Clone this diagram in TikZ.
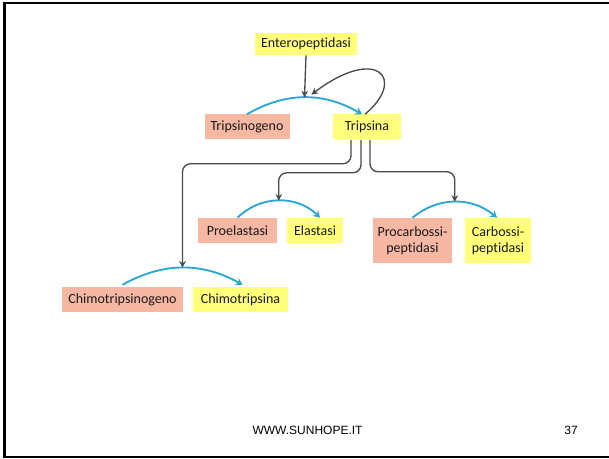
\documentclass[tikz,border=0pt]{standalone}
\usepackage{fontspec}
\setmainfont{Carlito}[Ligatures=NoCommon]
\newfontfamily\footfont{Liberation Sans}
\usepackage{xcolor}
\usetikzlibrary{arrows.meta,calc}
\tikzset{>={Stealth[width=5pt,length=5pt]}}

\definecolor{enzyyel}{HTML}{FFFF7A}
\definecolor{zymored}{HTML}{F6B7A3}
\definecolor{arcblue}{HTML}{2AA8D4}
\definecolor{linegray}{HTML}{4A4A4A}

\begin{document}
\begin{tikzpicture}[x=0.75pt, y=-0.75pt, font=\fontsize{10.5}{12}\selectfont]
	\tikzstyle{active}=[fill=enzyyel, text=black!90, inner sep=1pt, minimum height=18.75pt, align=center]
	\tikzstyle{zymogen}=[fill=zymored, text=black!90, inner sep=1pt, minimum height=18.75pt, align=center]
	\tikzstyle{convert}=[->, draw=arcblue, line width=1.4pt, >={Stealth[width=6pt,length=5pt]}]
	\tikzstyle{trigger}=[->, draw=linegray, line width=1pt, rounded corners=6pt]

	\useasboundingbox (0,0) rectangle (609,459);
	% slide frame
	\draw[line width=2.2pt] (609,3) -- (4.5,3) -- (4.5,457) -- (609,457);

	\node[active, minimum height=16.5pt, minimum width=76.5pt] (enteropeptidasi) at (306,44) {Enteropeptidasi};
	\node[zymogen, minimum width=63.75pt] (tripsinogeno) at (247,127) {Tripsinogeno};
	\node[active, minimum width=51pt] (tripsina) at (367,127) {Tripsina};

	\draw[convert] (tripsinogeno.north) to[bend left=30] coordinate[pos=0.5] (tri-in) coordinate[pos=0.56] (tri-loop) ($(tripsina.north)+(-5,0)$);
	\draw[trigger] (enteropeptidasi.south) -- (tri-in);
	\draw[trigger] ($(tripsina.north)+(-2,0)$) .. controls +(42,-35) and +(66,-50) .. ($(tri-loop)+(0,-3)$);

	\node[zymogen, minimum width=59.25pt] (proelastasi) at (237.5,230.5) {Proelastasi};
	\node[active, minimum width=42pt] (elastasi) at (315,230.5) {Elastasi};
	\draw[convert] (proelastasi.north) to[bend left=45] coordinate[pos=0.5] (ela-in) ($(elastasi.north)+(5,0)$);

	\node[zymogen, minimum width=59.25pt, minimum height=33.75pt] (procarbossi) at (412.5,240.5) {Procarbossi-\\peptidasi};
	\node[active, minimum width=49.5pt, minimum height=33.75pt] (carbossi) at (498,240.5) {Carbossi-\\peptidasi};
	\draw[convert] (procarbossi.north) to[bend left=40] coordinate[pos=0.5] (carb-in) ($(carbossi.north)+(-1,0)$);

	\node[zymogen, minimum width=90.75pt] (chimotripsinogeno) at (122.5,299.5) {Chimotripsinogeno};
	\node[active, minimum width=71.25pt] (chimotripsina) at (240.5,299.5) {Chimotripsina};
	\draw[convert] ($(chimotripsinogeno.north)+(0,-2)$) to[bend left=29] coordinate[pos=0.5] (chy-in) ($(chimotripsina.north)+(2,-2)$);

	% tripsina activates the other zymogens
	\draw[trigger] ($(tripsina.south)+(-16,0)$) -- ++(0,24) -| (chy-in);
	\draw[trigger] ($(tripsina.south)+(-6,0)$) -- ++(0,33) -| (ela-in);
	\draw[trigger] ($(tripsina.south)+(3,0)$) -- ++(0,32) -| (carb-in);

	\node[font=\footfont\fontsize{9}{10}\selectfont] (sito) at (307.5,430) {WWW.SUNHOPE.IT};
	\node[font=\footfont\fontsize{9}{10}\selectfont] (pagina) at (571,430) {37};
\end{tikzpicture}
\end{document}
